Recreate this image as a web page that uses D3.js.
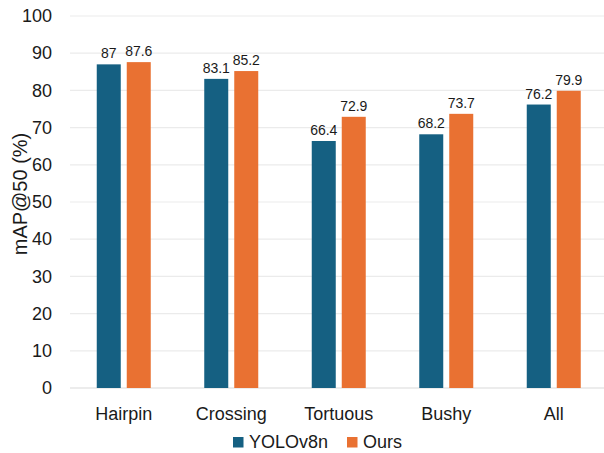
<!DOCTYPE html>
<html>
<head>
<meta charset="utf-8">
<script src="https://cdn.jsdelivr.net/npm/d3@7"></script>
<style>
  html, body { margin: 0; padding: 0; background: #fff; }
  text { font-family: "Liberation Sans", Arial, sans-serif; }
</style>
</head>
<body>
<svg id="chart" width="604" height="453"></svg>
<script>
// Categories and mAP@50 values per model
const categories = ["Hairpin", "Crossing", "Tortuous", "Bushy", "All"];
const seriesNames = ["YOLOv8n", "Ours"];
const yolov8n = [87, 83.1, 66.4, 68.2, 76.2];
const ours = [87.6, 85.2, 72.9, 73.7, 79.9];
const yTicks = [0, 10, 20, 30, 40, 50, 60, 70, 80, 90, 100];
const colors = ["#156082", "#E97132"];

const svg = d3.select("#chart");
const plotLeft = 70, plotRight = 607.5, plotTop = 16, plotBottom = 388;

const x = d3.scaleBand().domain(categories).range([plotLeft, plotRight]).paddingInner(0).paddingOuter(0);
const inner = d3.scaleBand().domain(seriesNames).range([0, 54]).paddingInner(0.2);
const y = d3.scaleLinear().domain([0, 100]).range([plotBottom, plotTop]);

// Gridlines
svg.append("g")
  .selectAll("line")
  .data(yTicks)
  .join("line")
  .attr("x1", plotLeft).attr("x2", 604)
  .attr("y1", d => y(d)).attr("y2", d => y(d))
  .attr("stroke", d => d === 0 ? "#d9d9d9" : "#ebebeb")
  .attr("stroke-width", 1.2);

// Y axis labels
const yAxis = d3.axisLeft(y).tickValues(yTicks).tickSize(0).tickPadding(0);
const ya = svg.append("g").attr("transform", `translate(52,0)`).call(yAxis);
ya.select(".domain").remove();
ya.selectAll("text").attr("font-size", 18).attr("fill", "#1a1a1a")
  .attr("font-family", "Liberation Sans, Arial, sans-serif");

// Y axis title
svg.append("text")
  .attr("transform", `translate(27,194) rotate(-90)`)
  .attr("text-anchor", "middle")
  .attr("font-size", 20)
  .attr("fill", "#1a1a1a")
  .text("mAP@50 (%)");

// X axis labels
const xAxis = d3.axisBottom(x).tickSize(0).tickPadding(0);
const xa = svg.append("g").attr("transform", `translate(0,${plotBottom + 19})`).call(xAxis);
xa.select(".domain").remove();
xa.selectAll("text").attr("font-size", 18).attr("fill", "#1a1a1a")
  .attr("font-family", "Liberation Sans, Arial, sans-serif");

// Bars and value labels
const rows = categories.map((c, i) => ({ cat: c, vals: [yolov8n[i], ours[i]] }));
const groups = svg.append("g").selectAll("g")
  .data(rows).join("g")
  .attr("transform", d => `translate(${x(d.cat) + x.bandwidth() / 2 - 27},0)`);

groups.selectAll("rect")
  .data(d => d.vals.map((v, j) => ({ name: seriesNames[j], v, j })))
  .join("rect")
  .attr("x", d => inner(d.name))
  .attr("width", inner.bandwidth())
  .attr("y", d => y(d.v))
  .attr("height", d => y(0) - y(d.v))
  .attr("fill", d => colors[d.j]);

groups.selectAll("text")
  .data(d => d.vals.map((v, j) => ({ name: seriesNames[j], v, j })))
  .join("text")
  .attr("x", d => inner(d.name) + inner.bandwidth() / 2)
  .attr("y", d => y(d.v) - 6)
  .attr("text-anchor", "middle")
  .attr("font-size", 14)
  .attr("fill", "#1a1a1a")
  .text(d => d.v);

// Legend
const legendItems = [{ name: "YOLOv8n", x: 233 }, { name: "Ours", x: 347 }];
const lg = svg.append("g").selectAll("g").data(legendItems).join("g")
  .attr("transform", d => `translate(${d.x},437)`);
lg.append("rect").attr("width", 10.5).attr("height", 10.5)
  .attr("fill", (d, i) => colors[i]);
lg.append("text").attr("x", 16).attr("y", 10.5)
  .attr("font-size", 18).attr("fill", "#1a1a1a")
  .text(d => d.name);
</script>
</body>
</html>
